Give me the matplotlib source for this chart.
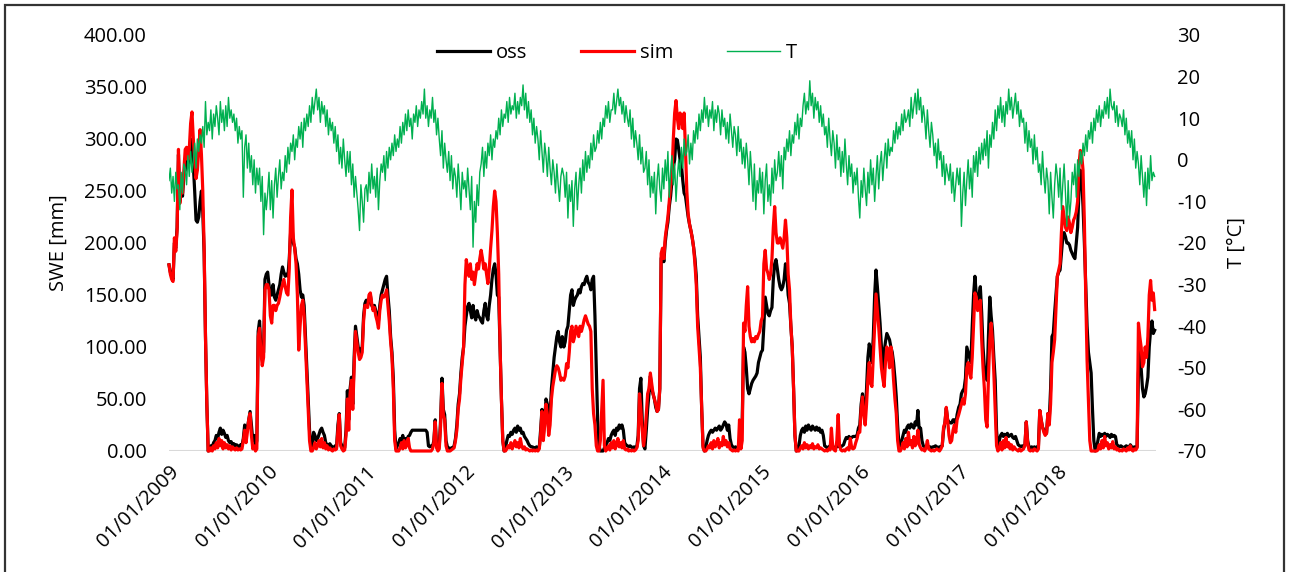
import numpy as np
import pandas as pd
import matplotlib
matplotlib.use("Agg")
import matplotlib.pyplot as plt
from matplotlib.lines import Line2D
from matplotlib.patches import Rectangle

plt.rcParams["font.family"] = ["Open Sans", "DejaVu Sans"]

# Snow water equivalent (mm), observed (oss) and simulated (sim), plus air
# temperature T (degC); one value every 5 days, 73 values per year.
oss_2009 = [179, 172, 168, 165, 200, 195, 215, 285, 240, 260, 245, 265, 270, 285, 275, 280, 300, 290, 275, 250,
            222, 220, 225, 240, 250, 230, 190, 110, 45, 0,
            3, 5, 4, 8, 10, 15, 12, 18, 22, 16, 20, 17, 13, 15, 10, 8, 9, 6, 7, 5, 6, 5, 4, 6, 5, 12, 25, 18, 22, 30,
            38, 25, 10, 15, 3, 10, 115, 125, 100, 90, 95, 165, 170]
sim_2009 = [179, 170, 165, 163, 205, 192, 212, 290, 238, 262, 248, 270, 290, 292, 280, 290, 315, 326, 300, 280,
            262, 270, 290, 309, 285, 250, 195, 110, 45, 0,
            0, 3, 0, 5, 2, 8, 3, 12, 5, 10, 2, 8, 3, 6, 2, 5, 1, 4, 2, 1, 3, 1, 2, 1, 2, 10, 20, 8, 18, 30,
            36, 15, 2, 5, 0, 2, 110, 118, 95, 82, 90, 155, 160]
oss_2010 = [172, 160, 150, 150, 160, 148, 145, 150, 155, 160, 170, 177, 172, 168, 170, 168, 185, 210, 216, 200,
            196, 185, 180, 170, 155, 148, 150, 140, 110, 80, 50, 20, 3,
            5, 18, 15, 10, 12, 16, 20, 22, 18, 15, 8, 6, 5, 7, 5, 4, 3, 5, 4, 25,
            36, 8, 5, 4, 3, 20, 58, 30, 60, 71, 45, 90, 120, 110, 100, 92, 98, 100, 130, 142]
sim_2010 = [160, 155, 130, 123, 140, 140, 135, 140, 142, 148, 155, 160, 165, 158, 152, 150, 175, 225, 251, 205,
            195, 180, 150, 97, 120, 140, 145, 130, 100, 70, 40, 10, 0,
            0, 3, 8, 2, 5, 10, 4, 12, 3, 8, 2, 5, 1, 3, 1, 0, 2, 1, 2, 20,
            35, 5, 2, 0, 1, 15, 50, 20, 55, 68, 40, 80, 115, 105, 95, 88, 90, 95, 125, 140]
oss_2011 = [145, 140, 145, 150, 140, 138, 140, 135, 130, 125, 140, 150, 155, 160, 165, 168, 150, 135, 110, 95,
            70, 20, 2,
            5, 8, 12, 10, 15, 8, 12, 10, 14, 15, 18, 20, 20, 20, 20, 20, 20, 20, 20, 20, 20, 20, 18, 5, 4,
            5, 4, 10, 30, 5, 3, 5, 30, 70, 40, 35, 10, 4, 3, 2, 3, 3, 5, 12, 25, 45, 55, 75, 90, 100]
sim_2011 = [140, 138, 150, 152, 142, 135, 138, 130, 125, 118, 135, 145, 150, 148, 150, 155, 140, 125, 105, 90,
            60, 10, 0,
            0, 0, 3, 8, 2, 10, 3, 6, 12, 3, 0, 0, 0, 0, 0, 0, 0, 0, 0, 0, 0, 0, 0, 0, 0,
            0, 2, 8, 28, 3, 0, 2, 25, 65, 35, 30, 5, 0, 0, 0, 1, 2, 3, 10, 20, 40, 50, 70, 85, 100]
oss_2012 = [120, 130, 139, 142, 135, 128, 140, 130, 126, 135, 130, 128, 125, 123, 135, 142, 130, 126, 140, 150,
            165, 175, 180, 170, 150, 148, 100, 50, 10, 0,
            3, 10, 15, 14, 18, 16, 20, 22, 18, 24, 20, 22, 17, 18, 14, 12, 10, 7, 5, 4, 4, 3, 3, 4, 3,
            3, 20, 40, 15, 30, 50, 45, 20, 35, 60, 75, 90, 100, 110, 115, 105, 100, 110]
sim_2012 = [160, 184, 175, 168, 180, 165, 172, 160, 170, 180, 175, 185, 193, 185, 175, 180, 170, 161, 175, 195,
            212, 235, 250, 240, 210, 170, 100, 50, 10, 0,
            0, 2, 5, 3, 8, 2, 6, 10, 4, 8, 3, 12, 5, 2, 4, 1, 2, 1, 0, 1, 0, 1, 0, 1, 0,
            2, 15, 38, 10, 25, 45, 35, 15, 25, 50, 62, 70, 78, 82, 80, 75, 68, 70]
oss_2013 = [100, 105, 116, 120, 135, 150, 155, 140, 145, 148, 150, 155, 152, 158, 161, 160, 165, 168, 162, 160,
            155, 165, 168, 130, 80, 30, 5, 0, 0, 0, 3,
            5, 8, 12, 10, 15, 18, 20, 15, 22, 20, 25, 22, 25, 20, 8, 6, 5, 4, 5, 4, 3, 4, 3, 4,
            15, 60, 70, 30, 5, 2, 20, 40, 55, 72, 60, 55, 50, 42, 38, 40, 60, 185]
sim_2013 = [68, 72, 84, 80, 95, 115, 120, 105, 110, 120, 115, 110, 120, 115, 120, 126, 130, 126, 122, 120,
            115, 60, 36, 25, 5, 0, 0, 10, 40, 68, 5,
            0, 2, 5, 1, 8, 3, 10, 2, 6, 12, 4, 8, 3, 10, 2, 1, 2, 0, 1, 0, 1, 0, 1, 3,
            10, 55, 40, 20, 5, 15, 35, 55, 60, 75, 65, 55, 50, 45, 38, 40, 60, 190]
oss_2014 = [190, 182, 200, 212, 220, 235, 245, 260, 273, 280, 300, 299, 290, 280, 275, 260, 248, 245, 235, 225,
            218, 212, 205, 196, 185, 168, 130, 110, 90, 40, 5, 0,
            3, 10, 15, 18, 20, 18, 20, 22, 20, 22, 24, 20, 22, 25, 28, 26, 20, 25, 12, 6, 4,
            3, 4, 3, 4, 3, 5, 30, 100, 95, 80, 60, 55, 60, 65, 68, 70, 72, 75, 85, 90]
sim_2014 = [195, 185, 205, 215, 225, 240, 255, 267, 300, 325, 337, 320, 310, 325, 320, 310, 325, 290, 250, 228,
            218, 212, 205, 196, 180, 160, 120, 100, 80, 40, 3, 0,
            0, 2, 5, 3, 8, 2, 10, 4, 7, 12, 3, 8, 5, 14, 6, 10, 4, 8, 2, 1, 0,
            1, 0, 1, 0, 30, 2, 10, 123, 115, 140, 158, 120, 110, 105, 108, 105, 110, 108, 112, 115]
oss_2015 = [95, 97, 120, 148, 140, 132, 130, 135, 138, 165, 180, 184, 175, 165, 158, 155, 158, 165, 180, 170,
            150, 142, 120, 100, 60, 15, 0,
            2, 5, 15, 20, 22, 18, 24, 20, 25, 22, 20, 24, 22, 20, 23, 20, 22, 18, 20, 15,
            5, 4, 3, 4, 5, 3, 4, 3, 4, 4, 5, 4, 4, 5, 6, 10, 13, 12, 14, 12, 13, 14, 14, 14, 15, 22]
sim_2015 = [125, 129, 180, 193, 175, 171, 165, 170, 185, 215, 235, 210, 200, 200, 205, 200, 195, 205, 222, 205,
            170, 155, 120, 100, 60, 15, 0,
            0, 0, 3, 5, 2, 8, 3, 6, 2, 5, 3, 7, 2, 4, 3, 6, 2, 3, 2, 1,
            0, 1, 0, 2, 1, 22, 3, 1, 0, 10, 35, 5, 1, 0, 1, 0, 2, 3, 1, 12, 3, 2, 3, 8, 12, 18]
oss_2016 = [25, 45, 55, 40, 35, 60, 90, 103, 95, 85, 110, 150, 174, 158, 140, 123, 100, 78, 95, 105,
            113, 110, 107, 100, 95, 85, 70, 52, 25, 5,
            5, 10, 15, 20, 18, 23, 25, 22, 26, 24, 22, 28, 25, 39, 20, 22, 10, 5, 4, 4,
            5, 4, 4, 3, 4, 4, 5, 4, 3, 4, 4, 5, 20, 27, 41, 30, 28, 27, 27, 30, 30, 25, 35]
sim_2016 = [18, 40, 52, 35, 25, 45, 70, 85, 65, 62, 90, 120, 151, 135, 119, 100, 80, 70, 62, 85,
            100, 95, 80, 100, 90, 68, 50, 36, 10, 0,
            0, 3, 8, 2, 12, 4, 18, 6, 10, 3, 14, 5, 8, 20, 6, 3, 1, 2, 0, 3,
            10, 2, 1, 0, 1, 0, 1, 2, 1, 0, 2, 5, 23, 27, 42, 30, 15, 8, 10, 20, 25, 18, 30]
oss_2017 = [42, 45, 55, 58, 60, 70, 100, 95, 90, 85, 120, 150, 168, 150, 145, 150, 158, 133, 100, 80,
            72, 68, 110, 148, 130, 116, 90, 68, 20,
            2, 10, 15, 17, 14, 16, 15, 17, 14, 15, 16, 13, 12, 14, 10, 6, 5, 4, 5, 4, 5, 28, 10, 4, 3,
            4, 3, 4, 3, 4, 5, 39, 30, 23, 20, 18, 17, 36, 30, 60, 110, 113, 133, 150]
sim_2017 = [35, 40, 45, 50, 45, 55, 80, 85, 75, 70, 90, 120, 152, 148, 135, 140, 145, 107, 80, 60,
            30, 23, 70, 107, 123, 105, 75, 40, 5,
            0, 2, 8, 1, 10, 3, 13, 4, 8, 2, 6, 1, 4, 2, 1, 0, 2, 0, 1, 2, 6, 28, 8, 1, 0,
            1, 0, 2, 1, 0, 2, 39, 30, 23, 18, 15, 17, 36, 25, 45, 85, 95, 107, 138]
oss_2018 = [168, 172, 174, 190, 205, 210, 206, 200, 200, 198, 193, 190, 187, 185, 200, 215, 250, 270, 262, 235,
            200, 160, 120, 95, 85, 75, 40, 10, 0,
            2, 10, 17, 14, 16, 15, 17, 14, 16, 15, 13, 16, 14, 15, 14, 6, 5, 4, 5, 4, 3, 4, 5, 4, 3,
            6, 4, 3, 4, 3, 4, 75, 100, 80, 60, 52, 55, 62, 71, 100, 116, 125, 113, 116]
sim_2018 = [168, 174, 180, 210, 235, 225, 215, 212, 225, 219, 210, 215, 222, 225, 230, 240, 275, 289, 285, 270,
            220, 150, 87, 50, 10, 0, 0, 0, 0,
            0, 1, 6, 2, 10, 3, 14, 5, 8, 2, 6, 3, 9, 2, 4, 1, 2, 0, 1, 0, 2, 1, 0, 3, 1,
            5, 1, 0, 2, 1, 3, 123, 110, 100, 81, 85, 100, 90, 110, 150, 164, 145, 152, 136]

t_2009 = [-5, -2, -8, -4, -10, -3, -7, -6, -12, -3, -8, -1, -2, -6, 1, -4, 2, -3, 0, 4, -2, 5, 2, 6,
          4, 8, 3, 14, 6, 9, 7, 12, 5, 11, 8, 13, 10, 6, 14, 9, 12, 7, 13, 8, 15, 10, 12, 9,
          11, 7, 10, 4, 8, 5, 7, -9, 3, 6, -2, 4, -3, 1, -6, 0, -8, -2, -6, -2, -10, -4, -18, -8, -12]
t_2010 = [-8, -3, -12, -5, -14, -6, -2, -9, -4, 0, -7, -3, -5, 1, -3, 3, -1, 4, 2, 6, 0, 5, 3, 8,
          5, 9, 3, 10, 7, 11, 8, 13, 9, 15, 11, 14, 17, 12, 15, 9, 14, 11, 13, 8, 12, 6, 10, 7,
          9, 4, 8, 2, 6, -1, 3, -2, 5, 0, -4, 2, -3, 2, -6, -1, -9, -4, -8, -12, -17, -6, -10, -15, -7]
t_2011 = [-6, -10, -3, -8, -1, -7, -4, -9, -2, -12, -5, -1, -3, 1, -5, 2, -2, 3, 0, 4, 1, 6, 2, 5,
          3, 8, 4, 9, 6, 11, 7, 12, 8, 10, 5, 11, 9, 13, 8, 12, 10, 14, 11, 17, 10, 13, 8, 12,
          10, 15, 9, 12, 6, 10, 5, 1, 7, -2, 4, 0, -3, 2, -5, 1, -7, -2, -4, -9, -1, -6, -12, -3, -7]
t_2012 = [-5, -9, -2, -7, -12, -4, -21, -10, -15, -6, -11, -3, -1, 3, -4, 2, -2, 4, 1, 6, 0, 5, 3, 7,
          5, 10, 6, 12, 8, 11, 10, 14, 9, 15, 11, 13, 12, 16, 10, 14, 11, 15, 13, 18, 12, 16, 10, 14,
          9, 12, 6, 10, 4, 8, 5, 0, 7, 2, -3, 4, 1, -4, 3, -2, -6, 0, -3, -8, -1, -6, -10, -4, -2]
t_2013 = [-4, -9, -3, -14, -6, -10, -5, -16, -7, -3, -12, -6, -2, -8, 0, -5, 2, -3, 1, -2, 4, 0, 6, 2,
          3, 7, 4, 9, 5, 10, 8, 13, 10, 14, 9, 12, 12, 16, 11, 14, 17, 13, 15, 11, 14, 9, 13, 10,
          8, 12, 5, 10, 3, 7, 4, 0, 6, -1, 3, -3, -2, 2, -6, 0, -9, -4, -8, -3, -13, -5, -1, -7, -10]
t_2014 = [-2, -7, 0, -5, 2, -9, -3, 1, -6, -1, -10, -4, 0, -4, 3, -2, 5, 1, 2, 6, -1, 4, 0, 7,
          4, 9, 5, 11, 7, 12, 9, 15, 10, 13, 8, 12, 10, 14, 7, 12, 9, 13, 11, 6, 12, 8, 10, 5,
          9, 4, 11, 7, 3, 8, 6, 1, 8, 2, 5, -1, 3, -2, 4, 0, -6, 2, -3, -10, -1, -12, -5, -8, -2]
t_2015 = [-8, -3, -13, -5, -1, -10, -6, -11, -2, -8, 0, -5, -3, 2, -4, 1, -7, 3, 0, 5, 2, 7, 1, 6,
          4, 9, 6, 11, 5, 10, 8, 13, 16, 11, 14, 12, 19, 13, 16, 10, 15, 12, 14, 9, 13, 8, 11, 6,
          8, 3, 10, 5, 1, 7, 4, -2, 6, 0, 3, -4, 2, -3, 5, -1, -6, 1, -4, -1, -8, -3, -6, -2, -9]
t_2016 = [-14, -5, -9, -2, -7, -11, -3, -8, 0, -6, -2, -10, -4, 1, -7, -1, 2, -5, 0, 4, -2, 5, 1, 3,
          2, 7, 4, 9, 5, 8, 6, 11, 7, 12, 9, 10, 12, 8, 15, 10, 13, 16, 11, 17, 12, 15, 9, 13,
          10, 5, 12, 7, 3, 9, 6, 1, 4, -2, 5, 0, 2, -4, 1, -6, -1, -3, -5, -1, -8, -3, -10, -6, -2]
t_2017 = [-6, -2, -16, -8, -3, -11, -5, 0, -7, -2, -9, 1, -3, 2, -4, 3, -1, 4, 0, 5, 1, 7, -2, 6,
          3, 9, 5, 12, 7, 13, 10, 15, 9, 13, 8, 14, 11, 17, 12, 15, 10, 13, 16, 11, 14, 8, 12, 9,
          10, 4, 9, 2, 7, 3, 5, -1, 6, 0, 3, -3, -1, -6, 2, -4, -8, -2, -5, -13, -3, -9, -14, -6, -1]
t_2018 = [-4, -9, -2, -12, -6, -1, -8, -16, -5, -14, -10, -3, -6, -1, -9, 0, -4, 2, -1, 4, 1, 6, 2, 7,
          5, 9, 4, 10, 7, 12, 9, 13, 8, 12, 10, 14, 11, 15, 10, 17, 13, 12, 14, 9, 13, 8, 11, 10,
          8, 12, 6, 10, 4, 7, 3, 7, 0, 5, -2, 2, -1, -6, 1, -4, -9, -3, -11, -2, -7, 1, -5, -3, -4]

years = list(range(2009, 2019))
oss_by_year = [oss_2009, oss_2010, oss_2011, oss_2012, oss_2013,
               oss_2014, oss_2015, oss_2016, oss_2017, oss_2018]
sim_by_year = [sim_2009, sim_2010, sim_2011, sim_2012, sim_2013,
               sim_2014, sim_2015, sim_2016, sim_2017, sim_2018]
t_by_year = [t_2009, t_2010, t_2011, t_2012, t_2013,
             t_2014, t_2015, t_2016, t_2017, t_2018]

tick_labels = [f"01/01/{y}" for y in years]
left_ticks = np.arange(0, 401, 50)
right_ticks = np.arange(-70, 31, 10)


def year_dates(year, n):
    start = pd.Timestamp(f"{year}-01-01")
    return [start + pd.Timedelta(days=5 * k) for k in range(n)]


def stitch(series_by_year):
    dates, values = [], []
    for y, vals in zip(years, series_by_year):
        dates += year_dates(y, len(vals))
        values += vals
    return dates, values


d_oss, v_oss = stitch(oss_by_year)
d_sim, v_sim = stitch(sim_by_year)
d_t, v_t = stitch(t_by_year)

W, H = 1294, 572
fig = plt.figure(figsize=(W / 100, H / 100), dpi=100)
x0, x1, y0, y1 = 169, 1156, 35, 451
ax = fig.add_axes([x0 / W, 1 - y1 / H, (x1 - x0) / W, (y1 - y0) / H])
ax2 = ax.twinx()

FS = 14.5
ax.plot(d_oss, v_oss, color="black", lw=2.3, clip_on=False, zorder=3, solid_joinstyle="round")
ax.plot(d_sim, v_sim, color="#FF0000", lw=2.3, clip_on=False, zorder=4, solid_joinstyle="round")
ax.axhline(0, color="#D9D9D9", lw=1.5, zorder=1)
ax2.plot(d_t, v_t, color="#00B050", lw=1.0)

ax.set_xlim(pd.Timestamp("2009-01-01"), pd.Timestamp("2019-01-01"))
ax.set_ylim(0, 400)
ax2.set_ylim(-70, 30)

ax.set_xticks([pd.Timestamp(f"{y}-01-01") for y in years])
ax.set_xticklabels(tick_labels, rotation=45, ha="right", va="top",
                   rotation_mode="anchor", fontsize=FS)
ax.set_yticks(left_ticks)
ax.set_yticklabels([f"{v:.2f}" for v in left_ticks], fontsize=FS)
ax2.set_yticks(right_ticks)
ax2.set_yticklabels([f"{v}" for v in right_ticks], fontsize=FS)

ax.tick_params(axis="x", length=0, pad=8)
ax.tick_params(axis="y", length=0, pad=16)
ax2.tick_params(axis="y", length=0, pad=15)

for a in (ax, ax2):
    for s in a.spines.values():
        s.set_visible(False)

ax.set_ylabel("SWE [mm]", fontsize=FS, labelpad=11)
ax2.set_ylabel("T [°C]", fontsize=FS, labelpad=15)

handles = [Line2D([], [], color="black", lw=2.3),
           Line2D([], [], color="#FF0000", lw=2.3),
           Line2D([], [], color="#00B050", lw=1.0)]
ax.legend(handles, ["oss", "sim", "T"], loc="center", bbox_to_anchor=(0.454, 0.957),
          ncol=3, frameon=False, fontsize=FS, handlelength=2.6, handletextpad=0.3,
          columnspacing=2.7)

fig.patches.append(Rectangle((5 / W, -0.05), 1279 / W, 1.05 - 5 / H, transform=fig.transFigure,
                             fill=False, edgecolor="#333333", lw=1.6))

fig.savefig("out.png", dpi=100)
